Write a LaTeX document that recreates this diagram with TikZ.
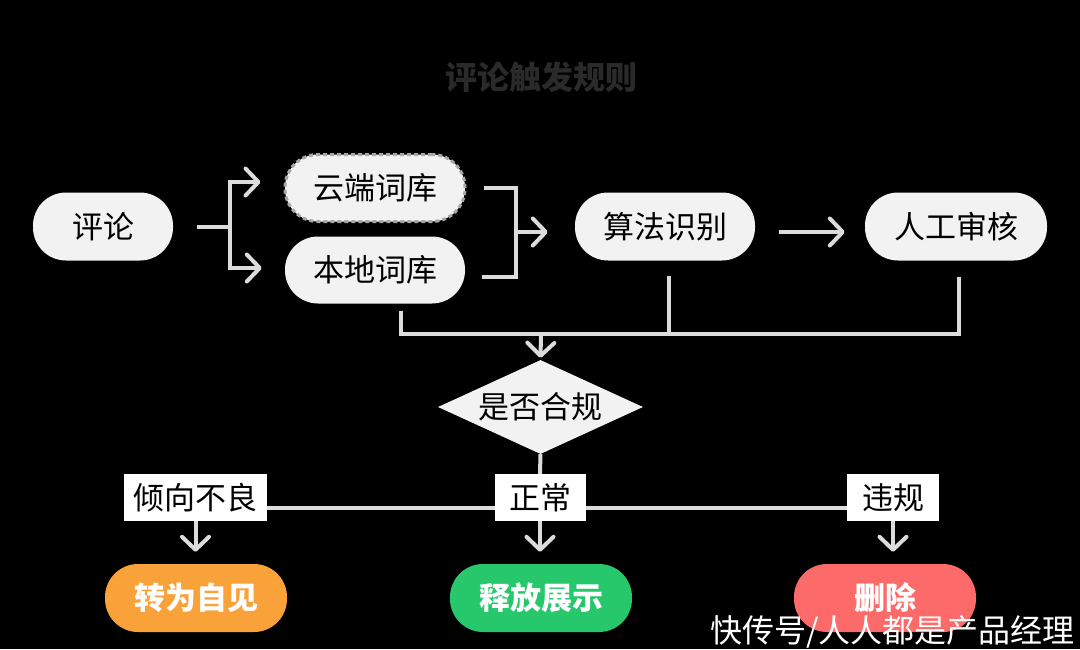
\documentclass[tikz,border=0pt]{standalone}
\usepackage{fontspec}
\setmainfont{Noto Sans CJK SC}
\usetikzlibrary{arrows.meta,calc,shapes.geometric}
\definecolor{lightfill}{HTML}{F2F2F2}
\definecolor{linegray}{HTML}{DCDCDC}
\definecolor{dashgray}{HTML}{A8A8A8}
\definecolor{orangefill}{HTML}{FAA23A}
\definecolor{greenfill}{HTML}{26C86B}
\definecolor{redfill}{HTML}{FD6A6A}
\definecolor{titlegray}{HTML}{2A2A2A}
\pgfdeclarelayer{bg}
\pgfdeclarelayer{back}
\pgfsetlayers{bg,back,main}
\tikzset{
  txt/.style={font=\fontsize{31}{31}\selectfont, text=black},
  pill/.style={txt, rectangle, rounded corners=33pt, fill=lightfill, minimum width=180pt, minimum height=67pt, inner sep=0pt},
  dashpill/.style={pill, draw=dashgray, line width=3pt, dash pattern=on 4pt off 3pt},
  endpill/.style={rectangle, rounded corners=33pt, minimum width=182pt, minimum height=68pt, inner sep=0pt,
     font=\fontsize{31}{31}\selectfont\bfseries, text=white},
  tagbox/.style={txt, rectangle, fill=white, minimum height=47pt, inner sep=0pt},
  decision/.style={txt, diamond, fill=lightfill, minimum width=205pt, minimum height=94pt, inner sep=0pt, aspect=2.18},
  link/.style={draw=linegray, line width=4pt},
  arr/.style={link, -{Straight Barb[length=13pt,width=27pt,round]}},
}
\begin{document}
\begin{tikzpicture}[x=1pt,y=-1pt]
\begin{pgfonlayer}{bg}
  \fill[black] (0,0) rectangle (1080,649);
\end{pgfonlayer}
\useasboundingbox (0,0) rectangle (1080,649);

\node[font=\fontsize{32}{32}\selectfont\bfseries, text=titlegray] (title) at (541,77) {评论触发规则};

\node[pill, minimum width=140pt, minimum height=68pt] (pinglun) at (103,226.5) {评论};
\node[dashpill] (yun) at (375,188) {云端词库};
\node[pill] (ben) at (375,270) {本地词库};
\node[pill, minimum height=68pt] (suanfa) at (665,226.5) {算法识别};
\node[pill, minimum width=182pt, minimum height=68pt] (rengong) at (956,226.5) {人工审核};
\node[decision] (dia) at (540.5,407) {是否合规};

\node[tagbox, minimum width=143pt] (qx) at (195.5,497.5) {倾向不良};
\node[tagbox, minimum width=91pt] (zc) at (540,497.5) {正常};
\node[tagbox, minimum width=92pt] (wg) at (893,497.5) {违规};

\node[endpill, fill=orangefill] (zz) at (196,598) {转为自见};
\node[endpill, fill=greenfill] (sf) at (541,598) {释放展示};
\node[endpill, fill=redfill] (sc) at (885,598) {删除};

\node[anchor=base east, font=\fontsize{32}{32}\selectfont, text=white, inner sep=0pt] (wm) at (1075,642) {快传号/人人都是产品经理};

% split from comment
\coordinate (s1) at (230,227);
\draw[link, shorten <=24pt] (pinglun.east |- s1) -- (s1);
\draw[arr, shorten >=23pt] (s1) |- ($(yun.west)+(0,-6)$);
\draw[arr, shorten >=23pt] (s1) |- ($(ben.west)+(0,-2)$);

% bracket into algorithm
\coordinate (j1) at (516,232);
\draw[link] ($(yun.east)+(17,0)$) -| (j1) |- ($(ben.east)+(17,7)$);
\draw[arr, shorten >=27pt] (j1) -- (suanfa.west |- j1);

% algorithm to manual review
\draw[arr, shorten <=24pt, shorten >=20pt] (suanfa.east |- j1) -- (rengong.west |- j1);

% merge into decision
\coordinate (m) at (541,333);
\draw[link] ($(ben.south)+(26,7)$) |- ($(rengong.south)+(3,73)$) -- ($(rengong.south)+(3,16)$);
\draw[link] ($(suanfa.south)+(4,15)$) -- ($(suanfa.south)+(4,73)$);
\draw[arr, shorten >=2pt] (m) -- (dia.north);

% outcomes
\begin{pgfonlayer}{back}
\draw[link] (dia.south) -- (zc.north);
\draw[link] ($(qx.east)+(0,10.5)$) -- ($(wg.west)+(0,10.5)$);
\end{pgfonlayer}
\draw[arr, shorten >=12pt] (qx.south) -- (qx.south |- zz.north);
\draw[arr, shorten >=12pt] (zc.south) -- (zc.south |- sf.north);
\draw[arr, shorten >=12pt] (wg.south) -- (wg.south |- sc.north);
\end{tikzpicture}
\end{document}
